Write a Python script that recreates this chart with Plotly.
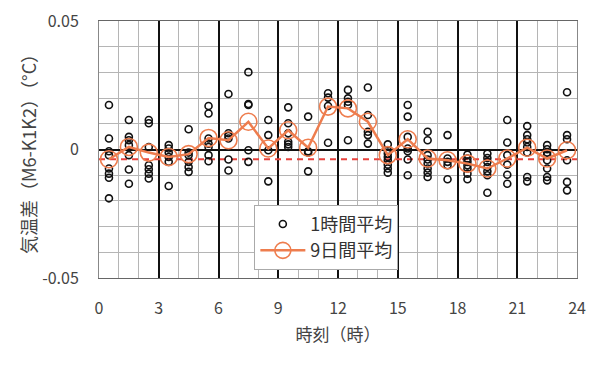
import plotly.graph_objects as go

# hour centres (0.5 ... 23.5)
hours = [h + 0.5 for h in range(24)]

# 1-hour averages (several days per hour)
hourly_samples = [
    [0.0173, 0.0043, -0.0007, -0.0022, -0.0074, -0.0094, -0.0110, -0.0190],
    [0.0115, 0.0049, 0.0036, 0.0017, -0.0022, -0.0078, -0.0133],
    [0.0115, 0.0102, 0.0010, -0.0061, -0.0077, -0.0094, -0.0113],
    [0.0017, 0.0004, -0.0012, -0.0029, -0.0048, -0.0142],
    [0.0079, -0.0012, -0.0022, -0.0048, -0.0068, -0.0087],
    [0.0169, 0.0140, 0.0043, 0.0023, 0.0010, -0.0022, -0.0046],
    [0.0216, 0.0063, 0.0053, 0.0043, -0.0039, -0.0082],
    [0.0301, 0.0177, 0.0173, -0.0003, -0.0048],
    [0.0115, 0.0056, -0.0003, -0.0124],
    [0.0164, 0.0102, 0.0063, 0.0030, 0.0020, 0.0010],
    [0.0128, -0.0007, -0.0012, -0.0085],
    [0.0219, 0.0202, 0.0169, 0.0026],
    [0.0232, 0.0199, 0.0186, 0.0173, 0.0036],
    [0.0241, 0.0134, 0.0069, 0.0056, 0.0023],
    [0.0020, -0.0003, -0.0016, -0.0029, -0.0042, -0.0059, -0.0074, -0.0090],
    [0.0173, 0.0128, 0.0049, 0.0004, -0.0007, -0.0039, -0.0100],
    [0.0069, 0.0036, -0.0022, -0.0039, -0.0055, -0.0074, -0.0090, -0.0107],
    [0.0056, -0.0035, -0.0048, -0.0061, -0.0116],
    [-0.0020, -0.0035, -0.0048, -0.0061, -0.0074, -0.0094, -0.0116],
    [-0.0016, -0.0033, -0.0048, -0.0068, -0.0085, -0.0100, -0.0168],
    [0.0115, 0.0027, -0.0022, -0.0059, -0.0098, -0.0133],
    [0.0091, 0.0056, 0.0040, 0.0027, 0.0010, -0.0012, -0.0107, -0.0124],
    [0.0017, 0.0001, -0.0012, -0.0022, -0.0042, -0.0074, -0.0107, -0.0120],
    [0.0223, 0.0056, 0.0040, -0.0042, -0.0126, -0.0159],
]

# 9-day averages per hour
nine_day_avg = [-0.0038, 0.0010, -0.0012, -0.0029, -0.0018, 0.0045,
                0.0036, 0.0108, 0.0004, 0.0075, 0.0007, 0.0167,
                0.0160, 0.0108, -0.0022, 0.0040, -0.0035, -0.0042,
                -0.0055, -0.0074, -0.0035, 0.0007, -0.0035, -0.0003]

overall_mean = -0.0038
x_ticks = [0, 3, 6, 9, 12, 15, 18, 21, 24]
x_minor = [h for h in range(25) if h % 3 != 0]
y_ticks = [-0.05, 0, 0.05]
y_tick_text = ["-0.05", "0", "0.05"]

ORANGE = "#EE7D4E"
FONT = "Noto Sans CJK JP"

px_x, px_y = [], []
for h, vals in zip(hours, hourly_samples):
    for v in vals:
        px_x.append(h)
        px_y.append(v)

fig = go.Figure()

# overall mean dashed line
fig.add_trace(go.Scatter(
    x=[0, 24], y=[overall_mean, overall_mean], mode="lines",
    line=dict(color="#E8423C", width=2, dash="6px,5px"),
    showlegend=False, hoverinfo="skip"))

fig.add_trace(go.Scatter(
    x=px_x, y=px_y, mode="markers", name="1時間平均",
    marker=dict(symbol="circle-open", size=7, color="#111111",
                line=dict(width=1.6, color="#111111"))))

fig.add_trace(go.Scatter(
    x=hours, y=nine_day_avg, mode="lines+markers", name="9日間平均",
    line=dict(color=ORANGE, width=2.5),
    marker=dict(symbol="circle-open", size=17, color=ORANGE,
                line=dict(width=1.6, color=ORANGE))))

# page body has an 8px margin, so margins are offset by 8px
fig.update_layout(
    width=600, height=365,
    margin=dict(l=91, r=31, t=13, b=95, autoexpand=False),
    paper_bgcolor="white", plot_bgcolor="white",
    font=dict(family=FONT, size=16, color="#444444"),
    showlegend=True,
    legend=dict(x=0.325, y=0.285, xanchor="left", yanchor="top",
                bgcolor="white", bordercolor="#aaaaaa", borderwidth=1,
                font=dict(family=FONT, size=18, color="#333333"),
                itemwidth=45, tracegroupgap=2),
    xaxis=dict(range=[0, 24], tickmode="array", tickvals=x_ticks,
               showgrid=True, gridcolor="#111111", gridwidth=1.6,
               zeroline=False, ticks="", ticklabelstandoff=16,
               showline=True, linecolor="#666666", mirror=True, automargin=False,
               minor=dict(tickmode="array", tickvals=x_minor, showgrid=True,
                          gridcolor="#b5b5b5", gridwidth=1),
               title=dict(text="時刻（時）", standoff=10,
                          font=dict(family=FONT, size=17, color="#444444")),
               tickfont=dict(size=16, color="#444444")),
    yaxis=dict(range=[-0.05, 0.05], tickmode="array", tickvals=y_ticks,
               ticktext=y_tick_text, showgrid=True, gridcolor="#888888", gridwidth=1,
               zeroline=True, zerolinecolor="#111111", zerolinewidth=2,
               ticks="", ticklabelstandoff=16, automargin=False,
               ticklabeloverflow="allow",
               showline=True, linecolor="#888888", mirror=True,
               minor=dict(dtick=0.01, showgrid=True, gridcolor="#b5b5b5", gridwidth=1),
               title=dict(text="気温差（M6-K1K2）（°C）", standoff=0,
                          font=dict(family=FONT, size=18, color="#444444")),
               tickfont=dict(size=16, color="#444444")),
)

fig.write_html("out.html")
